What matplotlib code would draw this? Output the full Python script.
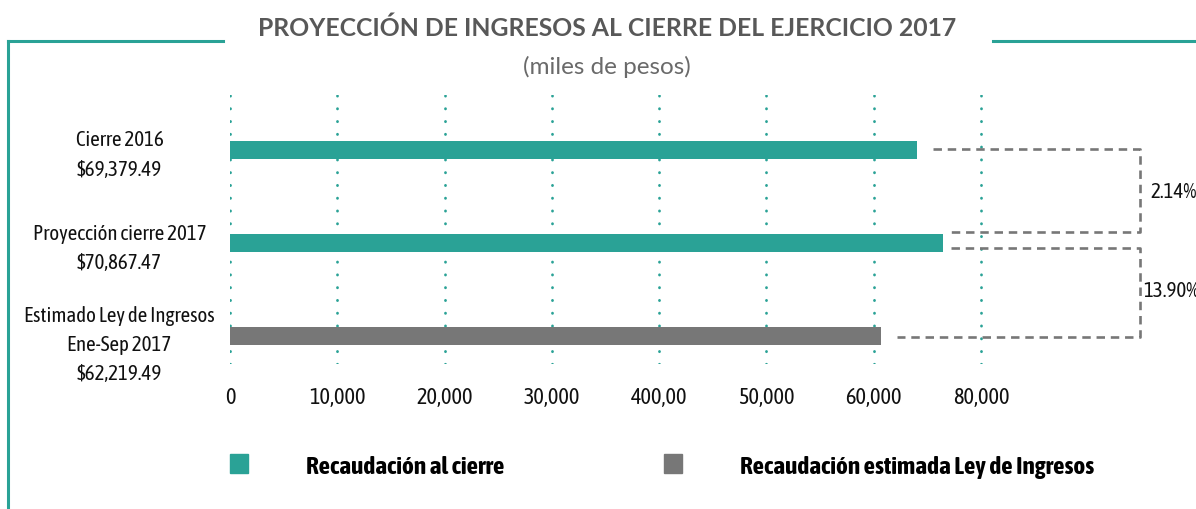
import matplotlib
matplotlib.use('Agg')
import matplotlib.pyplot as plt
from matplotlib.lines import Line2D
from matplotlib.patches import Patch
from matplotlib import font_manager

# --- datos ---
categorias = ['Cierre 2016', 'Proyección cierre 2017', 'Estimado Ley de Ingresos\nEne-Sep 2017']
montos = [69379.49, 70867.47, 62219.49]          # valores de las etiquetas
largos = [64000, 66500, 60700]
colores_barra = ['#2aa296', '#2aa296', '#777777']
ticks = [0, 10000, 20000, 30000, 40000, 50000, 60000, 70000]
tick_labels = ['0', '10,000', '20,000', '30,000', '400,00', '50,000', '60,000', '80,000']
leyenda = ['Recaudación al cierre', 'Recaudación estimada Ley de Ingresos']

TEAL = '#2aa296'
GRIS = '#777777'

nombres = {f.name for f in font_manager.fontManager.ttflist}
COND = [n for n in ['Asap Condensed', 'Archivo Narrow'] if n in nombres] + ['DejaVu Sans']
TIT = ['Lato', 'DejaVu Sans'] if 'Lato' in nombres else ['DejaVu Sans']

W, H = 1196, 510
fig = plt.figure(figsize=(W / 100, H / 100), dpi=100)

# ejes: x=0 en px 230, y de 96 a 365
ax = fig.add_axes([230 / W, (H - 365) / H, (W - 230) / W, 269 / H])
px_por_unidad = (981 - 230) / 70000
ax.set_xlim(0, (W - 230) / px_por_unidad)
ax.set_ylim(-0.30, 2.59)
for s in ax.spines.values():
    s.set_visible(False)

ypos = [2, 1, 0]

# lineas guia punteadas
ax.vlines(ticks, -0.30, 2.59, colors=TEAL, linewidth=2.0,
          linestyles=[(0, (0.1, 4.5))], capstyle='round', zorder=1)

ax.barh(ypos, largos, height=0.20, color=colores_barra, zorder=2)

ax.set_xticks(ticks)
ax.set_xticklabels(tick_labels, family=COND, fontsize=16, color='#111111')
ax.tick_params(axis='x', length=0, pad=16)
ax.set_yticks([])

# etiquetas de categoria
for y, cat, m in zip(ypos, categorias, montos):
    dy = 0.045 if y > 0 else 0.085
    ax.text(-10300, y - dy, f'{cat}\n${m:,.2f}', ha='center', va='center',
            family=COND, fontsize=15, color='#111111', linespacing=1.58)

# corchetes con variacion porcentual
x_der = 84800
lw_d = 1.9
ls_d = (0, (3.2, 2.2))
y_a, y_b, y_c = ypos
ax.plot([largos[0] + 1500, x_der, x_der, largos[1] + 750],
        [y_a + 0.01, y_a + 0.01, y_b + 0.12, y_b + 0.12],
        color=GRIS, lw=lw_d, ls=ls_d, clip_on=False)
ax.plot([largos[1] + 750, x_der, x_der, largos[2] + 1500],
        [y_b - 0.05, y_b - 0.05, y_c - 0.01, y_c - 0.01],
        color=GRIS, lw=lw_d, ls=ls_d, clip_on=False)
var1 = (montos[1] / montos[0] - 1) * 100
var2 = (montos[1] / montos[2] - 1) * 100
ax.text(x_der + 1000, (y_a + y_b) / 2 + 0.06, f'{var1:.2f}%', ha='left', va='center',
        family=COND, fontsize=15, color='#111111', clip_on=False)
ax.text(x_der + 350, (y_b + y_c) / 2 - 0.01, f'{var2:.2f}%', ha='left', va='center',
        family=COND, fontsize=15, color='#111111', clip_on=False)

# titulo y subtitulo
fig.text(607 / W, 1 - 28 / H, 'PROYECCIÓN DE INGRESOS AL CIERRE DEL EJERCICIO 2017',
         ha='center', va='center', family=TIT, fontweight='bold', fontsize=17.8, color='#585858')
fig.text(607 / W, 1 - 67 / H, '(miles de pesos)', ha='center', va='center',
         family=TIT, fontsize=17.5, color='#6a6a6a')

# marco verde
fig.add_artist(Line2D([8 / W, 223 / W], [1 - 42 / H, 1 - 42 / H], color=TEAL, lw=2.2))
fig.add_artist(Line2D([8 / W, 8 / W], [1 - 42 / H, 0], color=TEAL, lw=2.2))
fig.add_artist(Line2D([993 / W, 1], [1 - 42 / H, 1 - 42 / H], color=TEAL, lw=2.2))

# leyenda
handles = [Patch(color=TEAL), Patch(color=GRIS)]
fig.legend(handles, leyenda, loc='center left', bbox_to_anchor=(230 / W, 1 - 467 / H),
           ncol=2, frameon=False, handlelength=0.71, handleheight=0.79,
           handletextpad=2.3, columnspacing=6.3, borderpad=0, borderaxespad=0,
           prop={'family': COND, 'weight': 'bold', 'size': 18.2})

fig.savefig('out.png', dpi=100)
